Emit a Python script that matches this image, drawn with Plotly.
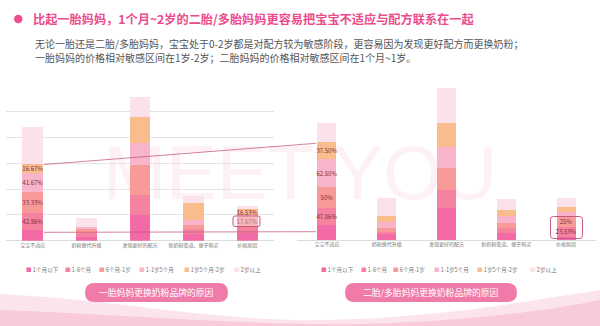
import plotly.graph_objects as go

W, H = 600, 326

# ---------------- data ----------------
CATEGORIES = ["宝宝不适应", "奶粉换代升级", "发现更好的配方", "新奶粉渠道、便于购买", "价格原因"]
SERIES = ["1个月以下", "1-6个月", "6个月-1岁", "1-1岁5个月", "1岁5个月-2岁", "2岁以上"]
COLORS = ["#f26aa6", "#f5839f", "#f89b98", "#f8b5c9", "#f9bc8d", "#fbe1e9"]

# left chart: 一胎妈妈 (stack heights, index units)
LEFT_1M = [2.07, 0.72, 4.98, 1.30, 1.49]
LEFT_1_6M = [3.24, 0.78, 3.88, 0.97, 1.36]
LEFT_6M_1Y = [4.19, 0.78, 5.82, 0.78, 1.75]
LEFT_1Y_1Y5 = [3.57, 0.39, 4.21, 0.97, 0.39]
LEFT_1Y5_2Y = [1.75, 0.00, 5.16, 3.24, 1.10]
LEFT_2Y = [7.29, 1.69, 3.88, 1.42, 0.64]

# right chart: 二胎/多胎妈妈
RIGHT_1M = [2.91, 1.16, 6.15, 1.36, 0.64]
RIGHT_1_6M = [3.24, 0.45, 3.55, 0.97, 1.94]
RIGHT_6M_1Y = [4.19, 0.66, 4.21, 0.91, 1.94]
RIGHT_1Y_1Y5 = [5.31, 1.28, 4.19, 1.42, 0.97]
RIGHT_1Y5_2Y = [3.41, 1.11, 4.54, 1.16, 0.97]
RIGHT_2Y = [3.68, 3.43, 6.79, 2.07, 1.63]

# data labels shown on segments
LEFT_TXT_1_6M = ["42.86%", "", "", "", ""]
LEFT_TXT_6M_1Y = ["33.33%", "", "", "", "17.67%"]
LEFT_TXT_1Y_1Y5 = ["41.67%", "", "", "", ""]
LEFT_TXT_1Y5_2Y = ["16.67%", "", "", "", "16.53%"]
RIGHT_TXT_1_6M = ["47.06%", "", "", "", "23.53%"]
RIGHT_TXT_6M_1Y = ["50%", "", "", "", "25%"]
RIGHT_TXT_1Y_1Y5 = ["62.50%", "", "", "", ""]
RIGHT_TXT_1Y5_2Y = ["37.50%", "", "", "", ""]

TITLE = "比起一胎妈妈，1个月~2岁的二胎/多胎妈妈更容易把宝宝不适应与配方联系在一起"
SUB1 = "无论一胎还是二胎/多胎妈妈，宝宝处于0-2岁都是对配方较为敏感阶段，更容易因为发现更好配方而更换奶粉；"
SUB2 = "一胎妈妈的价格相对敏感区间在1岁-2岁；二胎妈妈的价格相对敏感区间在1个月~1岁。"
BTN_LEFT = "一胎妈妈更换奶粉品牌的原因"
BTN_RIGHT = "二胎/多胎妈妈更换奶粉品牌的原因"
WATERMARK = "MEET YOU"

FONT = "Noto Sans CJK SC"

left_vals = [LEFT_1M, LEFT_1_6M, LEFT_6M_1Y, LEFT_1Y_1Y5, LEFT_1Y5_2Y, LEFT_2Y]
right_vals = [RIGHT_1M, RIGHT_1_6M, RIGHT_6M_1Y, RIGHT_1Y_1Y5, RIGHT_1Y5_2Y, RIGHT_2Y]
empty = [""] * 5
left_txt = [empty, LEFT_TXT_1_6M, LEFT_TXT_6M_1Y, LEFT_TXT_1Y_1Y5, LEFT_TXT_1Y5_2Y, empty]
right_txt = [empty, RIGHT_TXT_1_6M, RIGHT_TXT_6M_1Y, RIGHT_TXT_1Y_1Y5, RIGHT_TXT_1Y5_2Y, empty]


def px(x):
    return x / W


def py(y):
    return 1 - y / H


def rrect(x0, y0, x1, y1, r):
    pts = [
        ("M", [(x0 + r, y0)]), ("L", [(x1 - r, y0)]), ("Q", [(x1, y0), (x1, y0 + r)]),
        ("L", [(x1, y1 - r)]), ("Q", [(x1, y1), (x1 - r, y1)]), ("L", [(x0 + r, y1)]),
        ("Q", [(x0, y1), (x0, y1 - r)]), ("L", [(x0, y0 + r)]), ("Q", [(x0, y0), (x0 + r, y0)]),
    ]
    s = ""
    for cmd, ps in pts:
        s += cmd + " " + " ".join(f"{px(a):.5f},{py(b):.5f}" for a, b in ps) + " "
    return s + "Z"


fig = go.Figure()
for i, name in enumerate(SERIES):
    fig.add_trace(go.Bar(
        x=CATEGORIES, y=left_vals[i], name=name, marker=dict(color=COLORS[i], line=dict(width=0)),
        width=0.39, text=left_txt[i], textposition="inside", insidetextanchor="middle", textangle=0,
        constraintext="none", textfont=dict(size=6, color="#7d2e44", family=FONT),
        xaxis="x", yaxis="y", showlegend=False, hoverinfo="skip"))
    fig.add_trace(go.Bar(
        x=CATEGORIES, y=right_vals[i], name=name, marker=dict(color=COLORS[i], line=dict(width=0)),
        width=0.32, text=right_txt[i], textposition="inside", insidetextanchor="middle", textangle=0,
        constraintext="none", textfont=dict(size=6, color="#7d2e44", family=FONT),
        xaxis="x2", yaxis="y2", showlegend=False, hoverinfo="skip"))

shapes = []
# background waves
shapes.append(dict(type="path", xref="paper", yref="paper", layer="below",
                   path="M 0,%.5f C %.5f,%.5f %.5f,%.5f %.5f,%.5f C %.5f,%.5f %.5f,%.5f 1,%.5f L 1,0 L 0,0 Z" % (
                       py(294), px(120), py(300), px(220), py(322), px(320), py(320),
                       px(440), py(318), px(520), py(302), py(290)),
                   fillcolor="rgba(249,205,222,0.55)", line=dict(width=0)))
shapes.append(dict(type="path", xref="paper", yref="paper", layer="below",
                   path="M 0,%.5f C %.5f,%.5f %.5f,%.5f %.5f,%.5f C %.5f,%.5f %.5f,%.5f 1,%.5f L 1,0 L 0,0 Z" % (
                       py(310), px(120), py(314), px(250), py(326), px(360), py(324),
                       px(460), py(322), px(540), py(312), py(300)),
                   fillcolor="rgba(245,180,206,0.55)", line=dict(width=0)))
# watermark
shapes.append(dict(type="rect", xref="paper", yref="paper", layer="below",
                   x0=px(60), x1=px(540), y0=py(200), y1=py(130), line=dict(width=0),
                   fillcolor="rgba(0,0,0,0)",
                   label=dict(text=WATERMARK, font=dict(size=76, color="rgba(252,224,234,0.45)",
                                                         family="Liberation Sans"),
                              textposition="middle center")))
# bullet
shapes.append(dict(type="circle", xref="paper", yref="paper", x0=px(14), x1=px(22.5), y0=py(14.8), y1=py(23.3),
                   fillcolor="#ee4e8f", line=dict(width=0)))
# connector lines
shapes.append(dict(type="line", xref="paper", yref="paper", x0=px(44), y0=py(164.5), x1=px(316), y1=py(143.3),
                   line=dict(color="rgba(196,86,124,0.75)", width=1)))
shapes.append(dict(type="line", xref="paper", yref="paper", x0=px(44), y0=py(232.3), x1=px(316), y1=py(231.7),
                   line=dict(color="rgba(196,86,124,0.75)", width=1)))
# highlight boxes
shapes.append(dict(type="path", xref="paper", yref="paper", path=rrect(233, 216, 260, 226.5, 2),
                   line=dict(color="#c45a80", width=1), fillcolor="rgba(255,235,240,0.35)"))
shapes.append(dict(type="path", xref="paper", yref="paper", path=rrect(550.5, 216.5, 582.5, 238.5, 3),
                   line=dict(color="#c45a80", width=1), fillcolor="rgba(0,0,0,0)"))
# pill buttons
shapes.append(dict(type="path", xref="paper", yref="paper", path=rrect(85, 283, 228, 302, 9.5),
                   fillcolor="#f07aa8", line=dict(width=0)))
shapes.append(dict(type="path", xref="paper", yref="paper", path=rrect(345, 283, 517, 302, 9.5),
                   fillcolor="#f07aa8", line=dict(width=0)))

annotations = []
annotations.append(dict(xref="paper", yref="paper", x=px(31), y=py(19.5), xanchor="left", yanchor="middle",
                        text="<b>" + TITLE + "</b>", showarrow=False,
                        font=dict(size=12.2, color="#ec4b8c", family=FONT)))
annotations.append(dict(xref="paper", yref="paper", x=px(33), y=py(43.5), xanchor="left", yanchor="middle",
                        text=SUB1, showarrow=False, font=dict(size=10, color="#555555", family=FONT)))
annotations.append(dict(xref="paper", yref="paper", x=px(33), y=py(58), xanchor="left", yanchor="middle",
                        text=SUB2, showarrow=False, font=dict(size=10, color="#555555", family=FONT)))
annotations.append(dict(xref="paper", yref="paper", x=px(156.5), y=py(292.5), xanchor="center", yanchor="middle",
                        text=BTN_LEFT, showarrow=False, font=dict(size=8.8, color="white", family=FONT)))
annotations.append(dict(xref="paper", yref="paper", x=px(431), y=py(292.5), xanchor="center", yanchor="middle",
                        text=BTN_RIGHT, showarrow=False, font=dict(size=8.8, color="white", family=FONT)))

LEG_X_LEFT = [24, 63, 97, 137, 182, 232]
LEG_X_RIGHT = [319, 359, 391, 432, 475, 528]
for xs in (LEG_X_LEFT, LEG_X_RIGHT):
    for i, name in enumerate(SERIES):
        annotations.append(dict(
            xref="paper", yref="paper", x=px(xs[i]), y=py(269.5), xanchor="left", yanchor="middle",
            text=f"<span style='color:{COLORS[i]}'>■</span> {name}", showarrow=False,
            font=dict(size=5.6, color="#777777", family=FONT)))

fig.update_layout(
    width=W, height=H, margin=dict(l=0, r=0, t=0, b=0),
    paper_bgcolor="white", plot_bgcolor="rgba(0,0,0,0)",
    barmode="stack", bargap=0.5,
    font=dict(family=FONT),
    xaxis=dict(domain=[px(6), px(274)], anchor="y", type="category", range=[-0.5, 4.5],
               tickfont=dict(size=5, color="#777777", family=FONT), ticks="", showline=False,
               showgrid=False, fixedrange=True),
    yaxis=dict(domain=[py(240.7), py(86)], anchor="x", range=[0, 30.02], dtick=5,
               showgrid=True, gridcolor="#e4e4e4", gridwidth=1, zeroline=True, zerolinecolor="#dcdcdc",
               zerolinewidth=1, showticklabels=False, ticks=""),
    xaxis2=dict(domain=[px(297), px(596)], anchor="y2", type="category", range=[-0.5, 4.5],
                tickfont=dict(size=5, color="#777777", family=FONT), ticks="", showline=False,
                showgrid=False),
    yaxis2=dict(domain=[py(240), py(85.3)], anchor="x2", range=[0, 30.02],
                showgrid=False, zeroline=True, zerolinecolor="#dcdcdc", zerolinewidth=1,
                showticklabels=False, ticks=""),
    shapes=shapes, annotations=annotations,
)

fig.write_html("out.html")
